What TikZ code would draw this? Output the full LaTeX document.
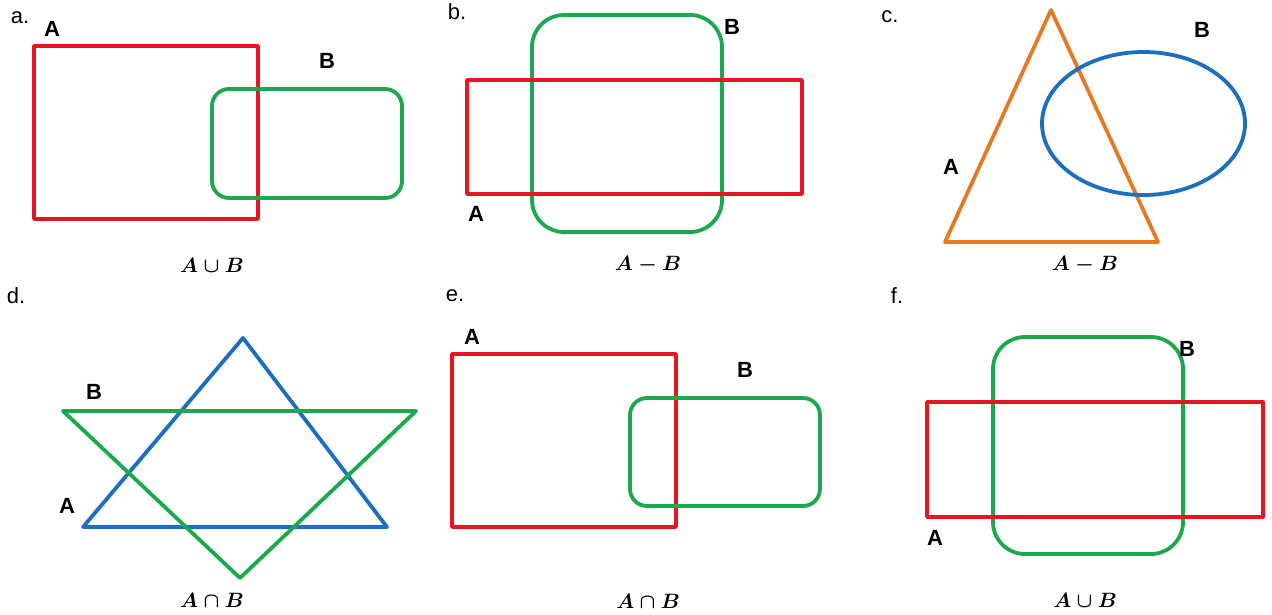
\documentclass[tikz,border=0pt]{standalone}
\usepackage{fontspec}
\setsansfont{Liberation Sans}
\definecolor{setred}{RGB}{228,22,34}
\definecolor{setgreen}{RGB}{28,168,78}
\definecolor{setblue}{RGB}{28,110,190}
\definecolor{setorange}{RGB}{228,122,36}
\begin{document}
\begin{tikzpicture}[x=1pt,y=-1pt,
  outline/.style={line width=3.8pt, line join=round},
  panel/.style={inner sep=0pt, font=\sffamily\fontsize{22}{22}\selectfont},
  setname/.style={inner sep=0pt, font=\sffamily\bfseries\fontsize{22}{22}\selectfont},
  formula/.style={inner sep=0pt, font=\fontsize{22}{22}\selectfont\boldmath}]
\useasboundingbox[fill=white] (0,0) rectangle (1272,615);

% (a) rectangle and overlapping rounded box
\draw[outline, setred] (34,46) rectangle (258,219);
\draw[outline, setgreen, rounded corners=17pt] (212,89) rectangle (402,198);
\node[panel] (la) at (20,18) {a.};
\node[setname] (aA) at (52,29) {A};
\node[setname] (aB) at (327,61) {B};
\node[formula] (fa) at (212,265) {$A\cup B$};

% (b) wide rectangle crossed by a tall rounded box
\draw[outline, setgreen, rounded corners=32pt] (532,15) rectangle (722,232);
\draw[outline, setred] (467,80) rectangle (802,194);
\node[panel] (lb) at (457,12) {b.};
\node[setname] (bB) at (732,27) {B};
\node[setname] (bA) at (476,214) {A};
\node[formula] (fb) at (648,265) {$A-B$};

% (c) triangle and ellipse
\draw[outline, setorange] (1051,10) -- (1158,242) -- (945,242) -- cycle;
\draw[outline, setblue] (1143.5,123.5) ellipse [x radius=101.5, y radius=71.5];
\node[panel] (lc) at (890,17) {c.};
\node[setname] (cB) at (1202,30) {B};
\node[setname] (cA) at (951,167) {A};
\node[formula] (fc) at (1085,265) {$A-B$};

% (d) two crossing triangles
\draw[outline, setblue] (243,338) -- (387,527) -- (83,527) -- cycle;
\draw[outline, setgreen] (63,411) -- (416,411) -- (240,578) -- cycle;
\node[panel] (ld) at (16,296) {d.};
\node[setname] (dB) at (94,392) {B};
\node[setname] (dA) at (67,506) {A};
\node[formula] (fd) at (212,600) {$A\cap B$};

% (e) rectangle and overlapping rounded box
\draw[outline, setred] (452,354) rectangle (676,527);
\draw[outline, setgreen, rounded corners=17pt] (630,398) rectangle (820,506);
\node[panel] (le) at (455,296) {e.};
\node[setname] (eA) at (472,337) {A};
\node[setname] (eB) at (745,370) {B};
\node[formula] (fe) at (648,601) {$A\cap B$};

% (f) wide rectangle crossed by a tall rounded box
\draw[outline, setgreen, rounded corners=32pt] (993,337) rectangle (1183,554);
\draw[outline, setred] (927,402) rectangle (1263,517);
\node[panel] (lf) at (897,296) {f.};
\node[setname] (fB) at (1187,349) {B};
\node[setname] (fA) at (935,538) {A};
\node[formula] (ff) at (1085,600) {$A\cup B$};
\end{tikzpicture}
\end{document}
